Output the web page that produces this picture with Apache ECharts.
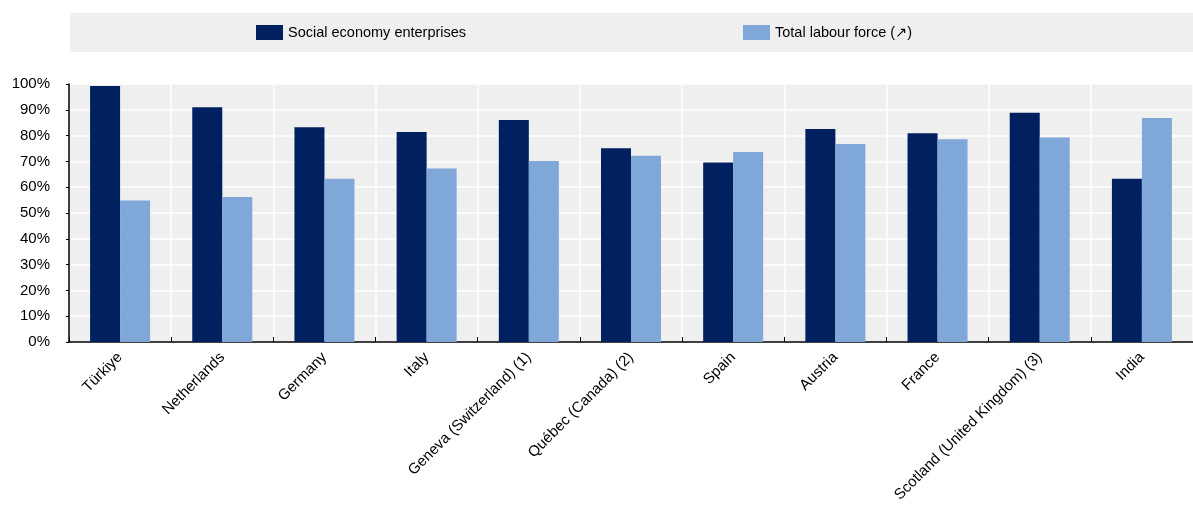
<!DOCTYPE html>
<html>
<head>
<meta charset="utf-8">
<script src="https://cdn.jsdelivr.net/npm/echarts@6/dist/echarts.min.js"></script>
<style>
html,body{margin:0;padding:0;background:#fff;}
#chart{width:1193px;height:511px;}
</style>
</head>
<body>
<div id="chart"></div>
<script>
const categories = ["Türkiye","Netherlands","Germany","Italy","Geneva (Switzerland) (1)","Québec (Canada) (2)","Spain","Austria","France","Scotland (United Kingdom) (3)","India"];
const socialEconomy = [99.2, 91.0, 83.2, 81.4, 86.0, 75.1, 69.6, 82.6, 80.9, 88.9, 63.3];
const labourForce = [54.8, 56.2, 63.3, 67.2, 70.2, 72.2, 73.6, 76.7, 78.6, 79.3, 86.8];
const seriesNames = ["Social economy enterprises", "Total labour force (\u2197)"];
const yTicks = [0, 10, 20, 30, 40, 50, 60, 70, 80, 90, 100];

const FONT = '"Liberation Sans", Arial, "DejaVu Sans", sans-serif';
const chart = echarts.init(document.getElementById('chart'), null, {renderer: 'canvas'});
chart.setOption({
  animation: false,
  textStyle: {fontFamily: FONT},
  graphic: [{
    type: 'rect', left: 70, top: 13, z: -10,
    shape: {width: 1123, height: 39},
    style: {fill: '#efefef'}
  }],
  legend: [
    {data: [seriesNames[0]], left: 256, top: 25, padding: 0, itemWidth: 27, itemHeight: 15, itemGap: 12,
     textStyle: {fontSize: 14.5, color: '#000', fontFamily: FONT}, icon: 'rect'},
    {data: [seriesNames[1]], left: 743, top: 25, padding: 0, itemWidth: 27, itemHeight: 15, itemGap: 12,
     textStyle: {fontSize: 14.5, color: '#000', fontFamily: FONT}, icon: 'rect'}
  ],
  grid: {left: 69, right: 0, top: 84, bottom: 169, show: true, backgroundColor: '#efefef', borderWidth: 0,
         containLabel: false, outerBoundsMode: 'none'},
  xAxis: {
    type: 'category', data: categories, boundaryGap: true,
    axisLine: {show: true, lineStyle: {color: '#000', width: 1.5}},
    axisTick: {show: true, inside: true, length: 5, lineStyle: {color: '#000'}},
    splitLine: {show: true, lineStyle: {color: '#fff', width: 1.5}},
    axisLabel: {rotate: 45, interval: 0, fontSize: 15, color: '#000', margin: 13, fontFamily: FONT}
  },
  yAxis: {
    type: 'value', min: 0, max: 100, interval: 10,
    axisLine: {show: true, lineStyle: {color: '#000', width: 1.5}},
    axisTick: {show: true, length: 3, lineStyle: {color: '#000'}},
    splitLine: {show: true, lineStyle: {color: '#fff', width: 1.5}},
    axisLabel: {fontSize: 15, color: '#000', margin: 19, fontFamily: FONT,
      formatter: v => yTicks.includes(v) ? v + '%' : ''}
  },
  series: [
    {name: seriesNames[0], type: 'bar', data: socialEconomy, barWidth: 30, barGap: '0%',
     itemStyle: {color: '#002060'}},
    {name: seriesNames[1], type: 'bar', data: labourForce, barWidth: 30, barGap: '0%',
     itemStyle: {color: '#7fa7d8'}}
  ]
});
</script>
</body>
</html>
